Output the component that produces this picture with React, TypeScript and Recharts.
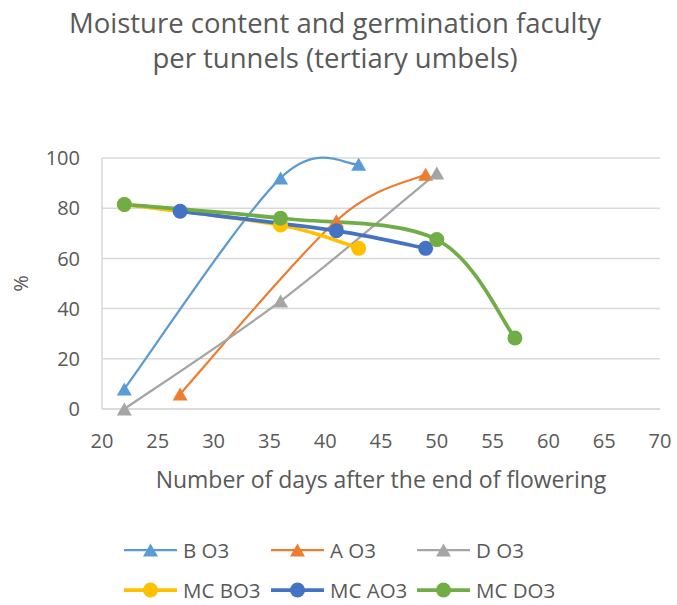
import React from 'react';
import { LineChart, Line, XAxis, YAxis, CartesianGrid } from 'recharts';

const W = 677;
const H = 605;
const FONT = "'Open Sans', 'Noto Sans', sans-serif";
const TEXT = '#595959';

const titleLines = ['Moisture content and germination faculty', 'per tunnels (tertiary umbels)'];
const xAxisTitle = 'Number of days after the end of flowering';
const yAxisTitle = '%';
const xTicks = [20, 25, 30, 35, 40, 45, 50, 55, 60, 65, 70];
const yTicks = [0, 20, 40, 60, 80, 100];

const seriesNames = ['B O3', 'A O3', 'D O3', 'MC BO3', 'MC AO3', 'MC DO3'];
const seriesColors = ['#5B9BD5', '#ED7D31', '#A5A5A5', '#FFC000', '#4472C4', '#70AD47'];
const seriesMarkers = ['triangle', 'triangle', 'triangle', 'circle', 'circle', 'circle'];

const bO3Days = [22, 36, 43];
const bO3Values = [8, 92, 97.5];
const aO3Days = [27, 41, 49];
const aO3Values = [6, 75, 93.5];
const dO3Days = [22, 36, 50];
const dO3Values = [0, 43, 94];
const mcBO3Days = [22, 36, 43];
const mcBO3Values = [81.5, 73.3, 64];
const mcAO3Days = [27, 41, 49];
const mcAO3Values = [78.8, 71, 64];
const mcDO3Days = [22, 36, 50, 57];
const mcDO3Values = [81.5, 76, 67.5, 28.3];

const build = (days: number[], vals: number[]) => days.map((d, i) => ({ x: d, y: vals[i] }));
const seriesData = [
  build(bO3Days, bO3Values),
  build(aO3Days, aO3Values),
  build(dO3Days, dO3Values),
  build(mcBO3Days, mcBO3Values),
  build(mcAO3Days, mcAO3Values),
  build(mcDO3Days, mcDO3Values),
];

// Excel-like smoothed line (Catmull-Rom style bezier)
function excelSmooth(context: any) {
  let pts: number[][] = [];
  return {
    areaStart() {},
    areaEnd() {},
    lineStart() {
      pts = [];
    },
    lineEnd() {
      const n = pts.length;
      if (!n) return;
      context.moveTo(pts[0][0], pts[0][1]);
      for (let i = 0; i < n - 1; i++) {
        const p0 = pts[Math.max(i - 1, 0)];
        const p1 = pts[i];
        const p2 = pts[i + 1];
        const p3 = pts[Math.min(i + 2, n - 1)];
        const c1x = p1[0] + (p2[0] - p0[0]) / 6;
        const c1y = p1[1] + (p2[1] - p0[1]) / 6;
        const c2x = p2[0] - (p3[0] - p1[0]) / 6;
        const c2y = p2[1] - (p3[1] - p1[1]) / 6;
        context.bezierCurveTo(c1x, c1y, c2x, c2y, p2[0], p2[1]);
      }
    },
    point(x: number, y: number) {
      pts.push([+x, +y]);
    },
  };
}

const triPath = (cx: number, cy: number) =>
  `M${cx},${cy - 6.5}L${cx + 7.5},${cy + 6.5}L${cx - 7.5},${cy + 6.5}Z`;

const makeDot = (marker: string, color: string) => (props: any) => {
  const { cx, cy, index } = props;
  const key = `dot-${color}-${index}`;
  if (cx == null || cy == null) return <g key={key} />;
  if (marker === 'triangle') return <path key={key} d={triPath(cx, cy)} fill={color} />;
  return <circle key={key} cx={cx} cy={cy} r={7.5} fill={color} />;
};

const legendCols = [124, 271, 417];
const legendRows = [550, 590];

export default function App() {
  return (
    <div style={{ position: 'absolute', left: 0, top: 0, width: W, height: H, background: '#fff', fontFamily: FONT }}>
      <LineChart width={W} height={H} margin={{ top: 158, right: 17, bottom: 106, left: 0 }}>
        <CartesianGrid vertical={false} stroke="#d9d9d9" strokeWidth={1.5} />
        <XAxis
          type="number"
          dataKey="x"
          domain={[20, 70]}
          ticks={xTicks}
          allowDataOverflow
          height={90}
          tickLine={false}
          tickMargin={19}
          axisLine={{ stroke: '#d9d9d9', strokeWidth: 1.5 }}
          tick={{ fill: TEXT, fontSize: 20, fontFamily: FONT }}
          label={{ value: xAxisTitle, position: 'insideBottom', offset: 11, fill: TEXT, fontSize: 23, fontFamily: FONT }}
        />
        <YAxis
          type="number"
          dataKey="y"
          domain={[0, 100]}
          ticks={yTicks}
          width={102}
          tickLine={false}
          tickMargin={16}
          axisLine={{ stroke: '#d9d9d9', strokeWidth: 1.5 }}
          tick={{ fill: TEXT, fontSize: 20, fontFamily: FONT }}
        />
        {seriesData.map((data, i) => (
          <Line
            key={seriesNames[i]}
            data={data}
            dataKey="y"
            name={seriesNames[i]}
            type={excelSmooth as any}
            stroke={seriesColors[i]}
            strokeWidth={seriesMarkers[i] === 'triangle' ? 2.25 : 3.75}
            dot={makeDot(seriesMarkers[i], seriesColors[i])}
            activeDot={false}
            isAnimationActive={false}
          />
        ))}
      </LineChart>
      <svg width={W} height={H} style={{ position: 'absolute', left: 0, top: 0, pointerEvents: 'none' }}>
        {titleLines.map((t, i) => (
          <text key={t} x={335} y={32.5 + i * 35} textAnchor="middle" fill={TEXT} fontSize={27.5} fontFamily={FONT}>
            {t}
          </text>
        ))}
        <text
          x={20}
          y={283.5}
          transform="rotate(-90 20 283.5)"
          textAnchor="middle"
          dominantBaseline="central"
          fill={TEXT}
          fontSize={20}
          fontFamily={FONT}
        >
          {yAxisTitle}
        </text>
        {seriesNames.map((name, i) => {
          const x = legendCols[i % 3];
          const y = legendRows[Math.floor(i / 3)];
          const c = seriesColors[i];
          const tri = seriesMarkers[i] === 'triangle';
          return (
            <g key={name}>
              <line x1={x} x2={x + 53} y1={y} y2={y} stroke={c} strokeWidth={tri ? 2.25 : 3.75} />
              {tri ? <path d={triPath(x + 26.5, y)} fill={c} /> : <circle cx={x + 26.5} cy={y} r={7.5} fill={c} />}
              <text x={x + 59} y={y} dominantBaseline="central" fill={TEXT} fontSize={20.5} fontFamily={FONT}>
                {name}
              </text>
            </g>
          );
        })}
      </svg>
    </div>
  );
}
